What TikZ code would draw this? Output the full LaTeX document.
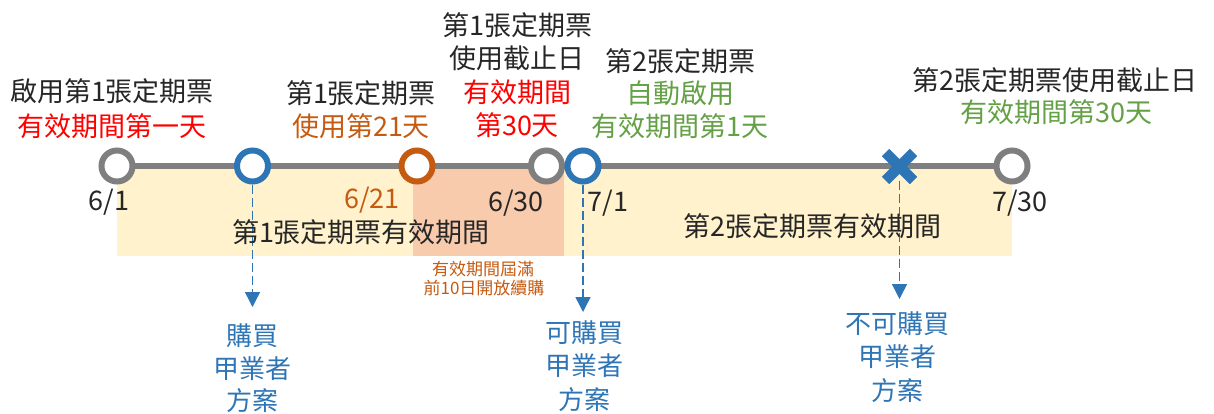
\documentclass[tikz,border=0pt]{standalone}
\usepackage{fontspec}
\setmainfont{Noto Sans CJK TC}
\usetikzlibrary{arrows.meta,shapes.misc}
\definecolor{tgray}{HTML}{7F7F7F}
\definecolor{tblue}{HTML}{2E75B6}
\definecolor{torange}{HTML}{C55A11}
\definecolor{tred}{HTML}{FF0000}
\definecolor{tgreen}{HTML}{64A046}
\definecolor{txt}{HTML}{262626}
\definecolor{yfill}{HTML}{FFF2CC}
\definecolor{ofill}{HTML}{F8CBAD}
\begin{document}
\begin{tikzpicture}[x=1pt,y=-1pt,
  ring/.style={circle, draw=#1, line width=6pt, fill=white, minimum size=31pt, inner sep=0pt},
  lbl/.style={font=\fontsize{27}{30}\selectfont, text=txt, inner sep=0pt},
  slbl/.style={font=\fontsize{17}{20}\selectfont, text=torange, inner sep=0pt},
  blbl/.style={font=\fontsize{26}{30}\selectfont, text=tblue, inner sep=0pt},
  dasharrow/.style={draw=tblue, line width=1.4pt, dash pattern=on 9pt off 4pt, -{Triangle[width=15pt,length=15pt]}},
  xmark/.style={cross out, draw=tblue, line width=10.5pt, minimum size=28pt, inner sep=0pt, outer sep=0pt}]
\useasboundingbox (0,0) rectangle (1214,413);
% periods
\fill[yfill] (117,166) rectangle (1012,256);
\fill[ofill] (413,166) rectangle (564,256);
% timeline
\coordinate (p61) at (117,166);
\coordinate (p730) at (1012,166);
\draw[tgray, line width=6pt] (p61) -- (p730);
% markers
\node[ring=tgray] (c61) at (p61) {};
\node[ring=tblue] (cb1) at (252.5,166) {};
\node[ring=torange] (c621) at (417,166) {};
\node[ring=tgray] (c630) at (546.5,166) {};
\node[ring=tblue] (c71) at (583,166) {};
\node[xmark] (xx) at (899.5,166.5) {};
\node[ring=tgray] (c730) at (p730) {};
% arrows
\coordinate (a1) at (252.5,307);
\coordinate (a2) at (583,312);
\coordinate (a3) at (899.5,299);
\draw[dasharrow] (cb1.south) -- (a1);
\draw[dasharrow] (c71.south) -- (a2);
\draw[dasharrow] (xx.south) -- (a3);
% top labels
\node[lbl] (t1a) at (112,91) {啟用第1張定期票};
\node[lbl, text=tred] (t1b) at (112,126) {有效期間第一天};
\node[lbl] (t2a) at (361,93) {第1張定期票};
\node[lbl, text=torange] (t2b) at (361,126) {使用第21天};
\node[lbl] (t3a) at (517,25) {第1張定期票};
\node[lbl] (t3b) at (517,58) {使用截止日};
\node[lbl, text=tred] (t3c) at (517,92) {有效期間};
\node[lbl, text=tred] (t3d) at (517,125) {第30天};
\node[lbl] (t4a) at (680,61) {第2張定期票};
\node[lbl, text=tgreen] (t4b) at (680,93) {自動啟用};
\node[lbl, text=tgreen] (t4c) at (680,126) {有效期間第1天};
\node[lbl] (t5a) at (1055,80) {第2張定期票使用截止日};
\node[lbl, text=tgreen] (t5b) at (1056,112) {有效期間第30天};
% dates
\node[lbl] (d61) at (109,202) {6/1};
\node[lbl, text=torange] (d621) at (372,200) {6/21};
\node[lbl] (d630) at (516,203) {6/30};
\node[lbl] (d71) at (608,203) {7/1};
\node[lbl] (d730) at (1020,203) {7/30};
% period names
\node[lbl] (q1) at (361,232) {第1張定期票有效期間};
\node[lbl] (q2) at (812,226) {第2張定期票有效期間};
\node[slbl] (n1) at (483,269) {有效期間屆滿};
\node[slbl] (n2) at (484,288) {前10日開放續購};
% bottom labels
\node[blbl] (b1a) at (252,336) {購買};
\node[blbl] (b1b) at (252,369) {甲業者};
\node[blbl] (b1c) at (252,401) {方案};
\node[blbl] (b2a) at (584,333) {可購買};
\node[blbl] (b2b) at (584,366) {甲業者};
\node[blbl] (b2c) at (584,400) {方案};
\node[blbl] (b3a) at (897,324) {不可購買};
\node[blbl] (b3b) at (897,357) {甲業者};
\node[blbl] (b3c) at (897,391) {方案};
\end{tikzpicture}
\end{document}
